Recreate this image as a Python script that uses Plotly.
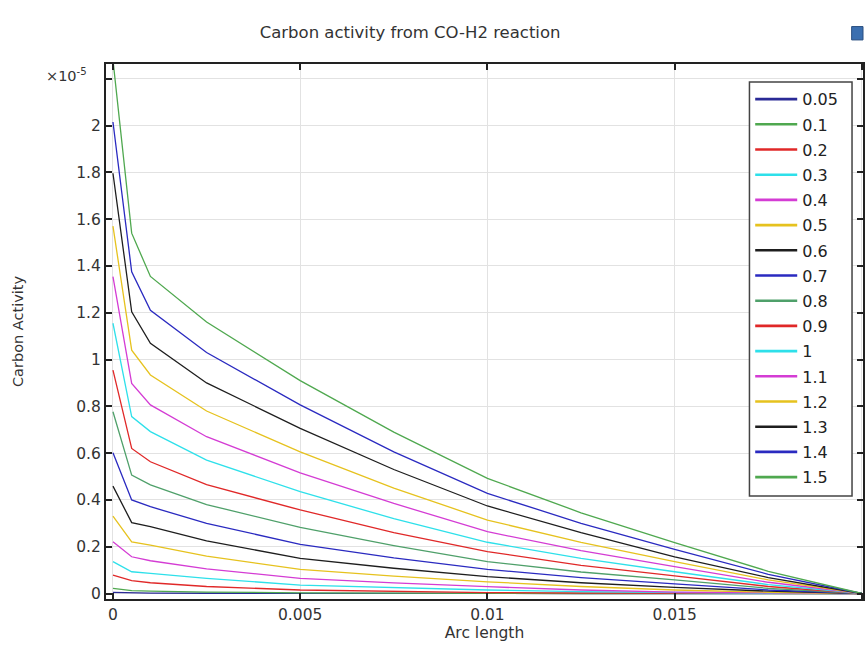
import plotly.graph_objects as go

# Arc length sample points
arc_length = [0, 0.0005, 0.001, 0.0025, 0.005, 0.0075, 0.01, 0.0125, 0.015, 0.0175, 0.02]

# Carbon activity values, in units of 1e-5
series_names = ["0.05", "0.1", "0.2", "0.3", "0.4", "0.5", "0.6", "0.7",
                "0.8", "0.9", "1", "1.1", "1.2", "1.3", "1.4", "1.5"]

ca_005 = [0.005, 0.003, 0.002, 0.001, 0, 0, 0, 0, 0, 0, 0]
ca_01 = [0.022, 0.012, 0.010, 0.006, 0.003, 0.001, 0, 0, 0, 0, 0]
ca_02 = [0.079, 0.055, 0.046, 0.030, 0.015, 0.008, 0.004, 0.002, 0.001, 0, 0]
ca_03 = [0.136, 0.093, 0.086, 0.065, 0.036, 0.025, 0.015, 0.008, 0.003, 0.001, 0]
ca_04 = [0.221, 0.157, 0.140, 0.105, 0.065, 0.045, 0.029, 0.015, 0.006, 0.002, 0]
ca_05 = [0.331, 0.221, 0.207, 0.160, 0.103, 0.074, 0.050, 0.030, 0.015, 0.005, 0]
ca_06 = [0.459, 0.303, 0.286, 0.225, 0.150, 0.108, 0.072, 0.046, 0.026, 0.010, 0]
ca_07 = [0.602, 0.400, 0.371, 0.300, 0.210, 0.152, 0.103, 0.068, 0.041, 0.015, 0]
ca_08 = [0.777, 0.506, 0.464, 0.380, 0.283, 0.205, 0.136, 0.092, 0.058, 0.022, 0]
ca_09 = [0.955, 0.620, 0.563, 0.465, 0.357, 0.260, 0.179, 0.120, 0.075, 0.030, 0]
ca_10 = [1.155, 0.756, 0.692, 0.570, 0.435, 0.320, 0.219, 0.150, 0.093, 0.038, 0]
ca_11 = [1.354, 0.898, 0.806, 0.670, 0.516, 0.385, 0.264, 0.183, 0.115, 0.048, 0]
ca_12 = [1.570, 1.040, 0.934, 0.780, 0.605, 0.450, 0.314, 0.218, 0.136, 0.058, 0]
ca_13 = [1.796, 1.204, 1.069, 0.900, 0.706, 0.530, 0.374, 0.260, 0.157, 0.068, 0]
ca_14 = [2.015, 1.375, 1.210, 1.030, 0.806, 0.605, 0.428, 0.300, 0.189, 0.082, 0]
ca_15 = [2.280, 1.540, 1.355, 1.160, 0.910, 0.690, 0.492, 0.345, 0.217, 0.095, 0]

series_values = [ca_005, ca_01, ca_02, ca_03, ca_04, ca_05, ca_06, ca_07,
                 ca_08, ca_09, ca_10, ca_11, ca_12, ca_13, ca_14, ca_15]

palette = ["#2a2a96", "#4fa84f", "#e02828", "#2ee0ea", "#d43cd4", "#e6c21e", "#1e1e1e",
           "#2a2ac0", "#4fa06a", "#e02828", "#2ee0ea", "#d43cd4", "#e6c21e", "#1e1e1e",
           "#2a2ac0", "#4fa84f"]

y_tickvals = [0, 0.2, 0.4, 0.6, 0.8, 1.0, 1.2, 1.4, 1.6, 1.8, 2.0, 2.2]
y_ticktext = ["0", "0.2", "0.4", "0.6", "0.8", "1", "1.2", "1.4", "1.6", "1.8", "2", ""]
x_tickvals = [0, 0.005, 0.01, 0.015, 0.02]
x_ticktext = ["0", "0.005", "0.01", "0.015", ""]

fig = go.Figure()
# plotted curves (thin lines)
for i, (name, vals) in enumerate(zip(series_names, series_values)):
    fig.add_trace(go.Scatter(
        x=arc_length, y=vals, mode="lines", name=name, showlegend=False,
        legendgroup=f"g{i}",
        line=dict(color=palette[i], width=1.3),
    ))
# legend entries (thicker sample lines, as in the reference legend)
for i, name in enumerate(series_names):
    fig.add_trace(go.Scatter(
        x=[None], y=[None], mode="lines", name=name, showlegend=True,
        legendgroup=f"g{i}",
        line=dict(color=palette[i], width=2.6),
    ))

font_main = "DejaVu Sans"
fig.update_layout(
    width=867, height=650,
    margin=dict(l=106, r=2, t=64, b=51),
    paper_bgcolor="white", plot_bgcolor="white",
    font=dict(family=font_main, size=15, color="#333333"),
    title=dict(text="Carbon activity from CO-H2 reaction", x=0.473, xanchor="center",
               xref="container", y=0.951, yanchor="middle", yref="container",
               font=dict(family=font_main, size=16.5, color="#333333")),
    xaxis=dict(range=[-0.000186, 0.02003], tickvals=x_tickvals, ticktext=x_ticktext,
               ticks="inside", ticklen=6, tickwidth=1.5, tickcolor="#222222",
               showline=True, linecolor="#222222", linewidth=2, mirror="allticks",
               showgrid=True, gridcolor="#e2e2e2", gridwidth=1, zeroline=False,
               tickfont=dict(size=15.5, color="#333333"),
               title=dict(text="Arc length", font=dict(size=15.5, color="#333333"), standoff=0)),
    yaxis=dict(range=[-0.0235, 2.263], tickvals=y_tickvals, ticktext=y_ticktext,
               ticks="inside", ticklen=6, tickwidth=1.5, tickcolor="#222222",
               showline=True, linecolor="#222222", linewidth=2, mirror="allticks",
               showgrid=True, gridcolor="#e2e2e2", gridwidth=1, zeroline=False,
               tickfont=dict(size=15.5, color="#333333"),
               title=dict(text="Carbon Activity", font=dict(size=14.5, color="#333333"), standoff=49)),
    legend=dict(x=0.851, y=0.966, xanchor="left", yanchor="top",
                bgcolor="rgba(255,255,255,0)", borderwidth=0,
                font=dict(family=font_main, size=16, color="#222222"),
                itemwidth=42,
                tracegroupgap=1.4, traceorder="grouped"),
    showlegend=True,
)

# legend frame (white box with dark border)
fig.add_shape(type="rect", xref="paper", yref="paper", layer="above",
              x0=0.85, x1=0.9855, y0=0.1925, y1=0.9664,
              fillcolor="white", line=dict(color="#444444", width=1.5))

fig.add_annotation(text="×10<sup>-5</sup>", xref="paper", yref="paper",
                   x=-0.0224, y=0.979, xanchor="right", yanchor="middle", showarrow=False,
                   font=dict(family=font_main, size=14.5, color="#333333"))

# small toolbar icon at top-right
fig.add_shape(type="rect", xref="paper", yref="paper", x0=0.985, x1=1.0, y0=1.045, y1=1.07,
              fillcolor="#3b6fb0", line=dict(color="#2a4f80", width=1))

fig.write_html("out.html")
